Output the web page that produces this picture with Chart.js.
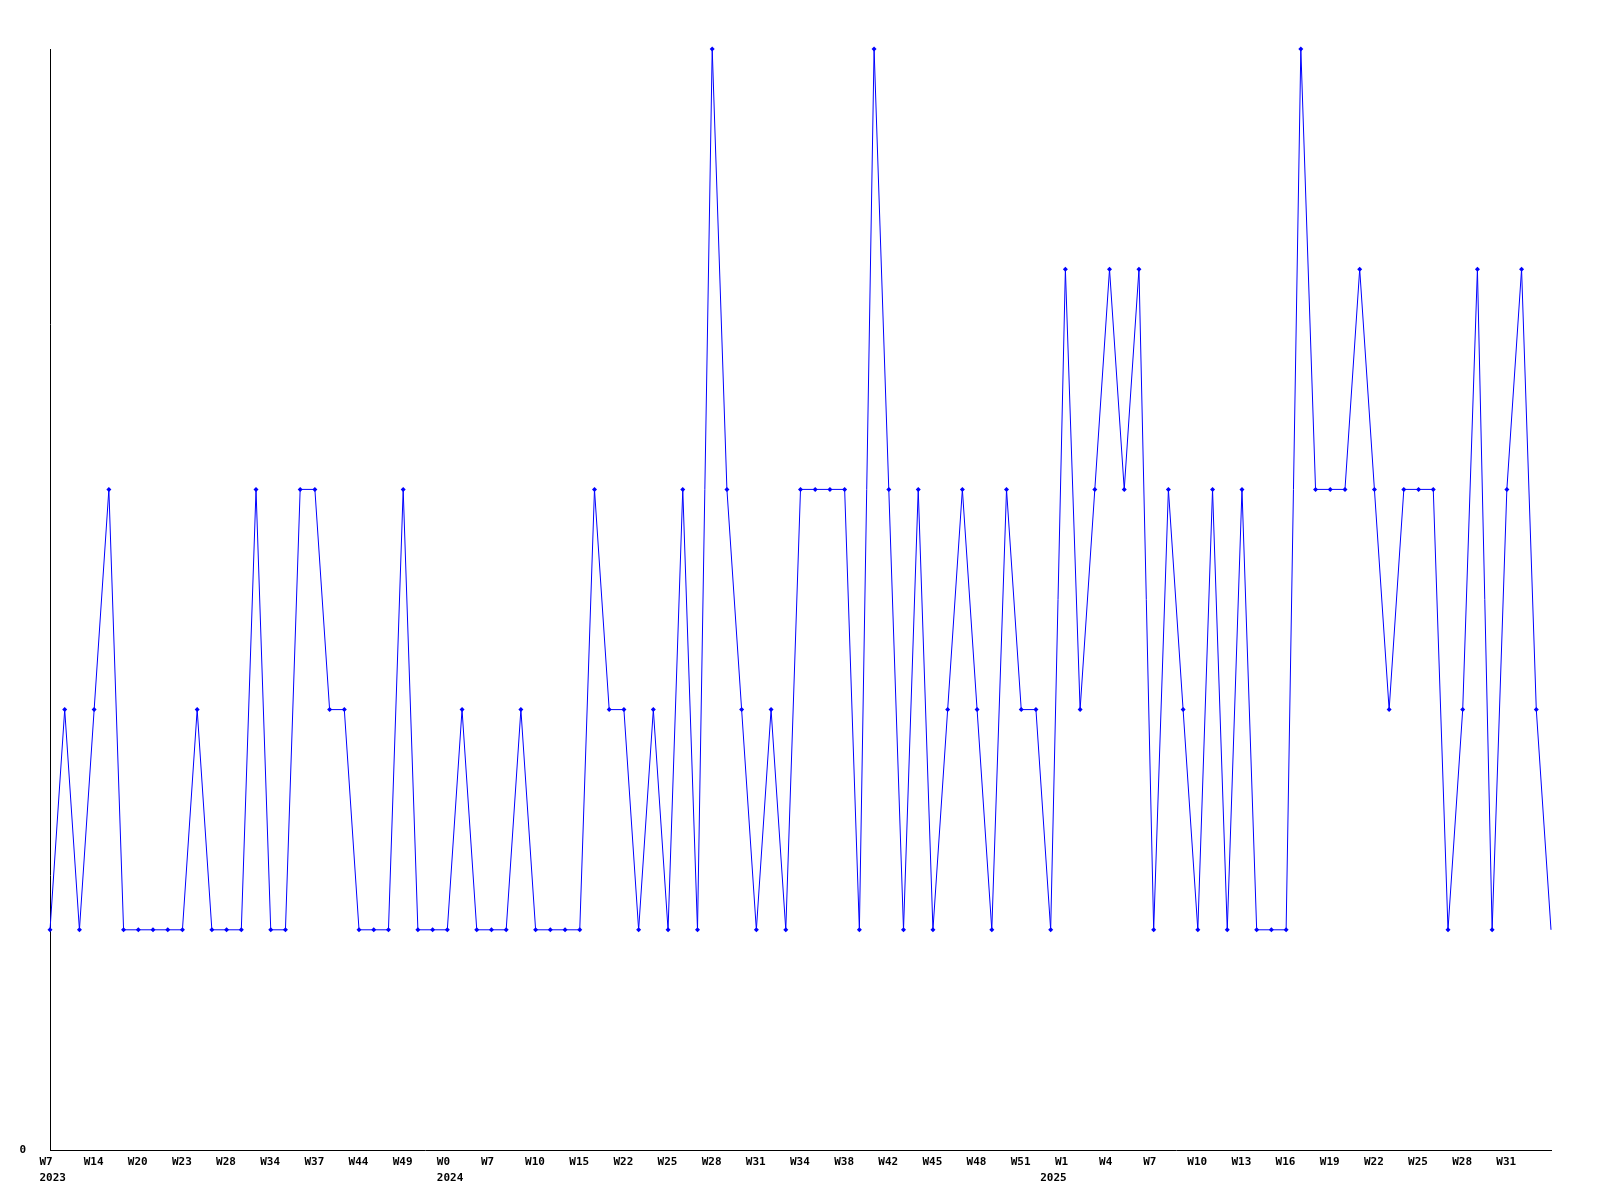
<!DOCTYPE html>
<html>
<head>
<meta charset="utf-8">
<script src="https://cdn.jsdelivr.net/npm/chart.js@4/dist/chart.umd.min.js"></script>
<style>
  html, body { margin: 0; padding: 0; background: #ffffff; }
  #wrap { width: 1600px; height: 1200px; }
</style>
</head>
<body>
<div id="wrap"><canvas id="c" width="1600" height="1200"></canvas></div>
<script>
const values = [
  1,2,1,2,3,1,1,1,1,1,
  2,1,1,1,3,1,1,3,3,2,
  2,1,1,1,3,1,1,1,2,1,
  1,1,2,1,1,1,1,3,2,2,
  1,2,1,3,1,5,3,2,1,2,
  1,3,3,3,3,1,5,3,1,3,
  1,2,3,2,1,3,2,2,1,4,
  2,3,4,3,4,1,3,2,1,3,
  1,3,1,1,1,5,3,3,3,4,
  3,2,3,3,3,1,2,4,1,3,
  4,2,1
];
const tickLabels = [
  'W7','W14','W20','W23','W28','W34','W37','W44','W49',
  'W0','W7','W10','W15','W22','W25','W28','W31','W34','W38','W42','W45','W48','W51',
  'W1','W4','W7','W10','W13','W16','W19','W22','W25','W28','W31'
];
const tickEvery = 3;
const yearNames = ['2023', '2024', '2025'];
const yearIndex = [0, 27, 68];

const categories = values.map((v, i) => {
  let week = '';
  if (i % tickEvery === 0 && i / tickEvery < tickLabels.length) week = tickLabels[i / tickEvery];
  const y = yearIndex.indexOf(i);
  if (y >= 0) return [week, yearNames[y]];
  return week;
});

const tickFont = { family: 'DejaVu Sans Mono', size: 11, weight: 'bold', lineHeight: 16 / 11 };

new Chart(document.getElementById('c'), {
  type: 'line',
  data: {
    labels: categories,
    datasets: [{
      data: values,
      borderColor: '#0000ff',
      backgroundColor: '#0000ff',
      borderWidth: 1,
      tension: 0,
      fill: false,
      clip: false,
      pointStyle: 'rectRot',
      pointRadius: (ctx) => ctx.dataIndex === values.length - 1 ? 0 : 2.5,
      pointBorderWidth: 0,
      pointBackgroundColor: '#0000ff'
    }]
  },
  options: {
    responsive: false,
    animation: false,
    events: [],
    layout: { padding: { top: 49, right: 49, left: 0, bottom: 0 } },
    plugins: { legend: { display: false }, tooltip: { enabled: false }, title: { display: false } },
    scales: {
      x: {
        type: 'category',
        offset: false,
        grid: { display: false, drawTicks: false },
        border: { display: true, color: '#000000', width: 1 },
        ticks: {
          autoSkip: false,
          maxRotation: 0,
          minRotation: 0,
          align: 'start',
          labelOffset: -10.5,
          padding: 4,
          color: '#000000',
          font: tickFont
        },
        afterFit: (scale) => { scale.height = 50; }
      },
      y: {
        min: 0,
        max: 5,
        grid: { display: false, drawTicks: false },
        border: { display: true, color: '#000000', width: 1 },
        ticks: {
          stepSize: 1,
          padding: 24,
          color: '#000000',
          font: tickFont,
          callback: (v) => v === 0 ? '0' : ''
        },
        afterFit: (scale) => { scale.width = 50; }
      }
    }
  }
});
</script>
</body>
</html>
